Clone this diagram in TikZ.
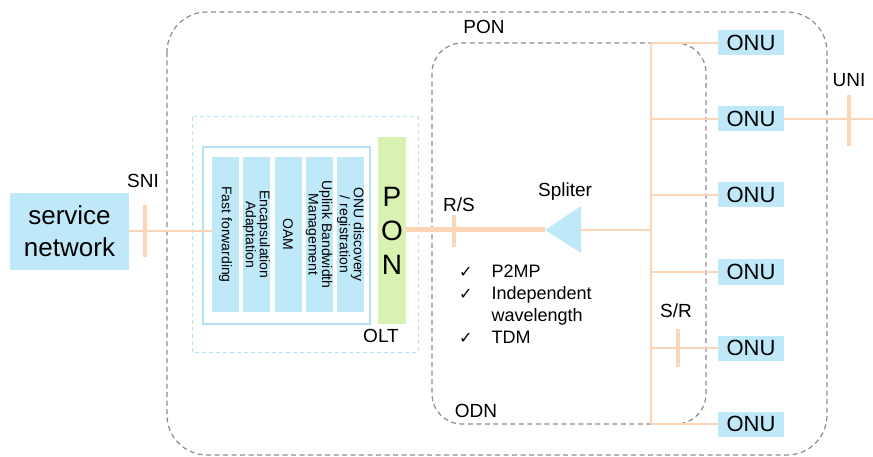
\documentclass[tikz,border=0pt]{standalone}
\usepackage{fontspec}
\setmainfont{Liberation Sans}
\newfontfamily\symfont{DejaVu Sans}
\usepackage{tikz}
\usetikzlibrary{positioning}
\definecolor{boxBlue}{RGB}{191,233,249}
\definecolor{fibreCol}{RGB}{252,212,182}
\definecolor{ponGreen}{RGB}{217,242,178}
\definecolor{domGrey}{RGB}{140,140,140}
\definecolor{oltCol}{RGB}{180,224,244}
\tikzset{myBlueBox/.style={fill=boxBlue, inner sep=0pt}}
\tikzset{myFibre/.style={color=fibreCol, line width=1.5pt}}
\tikzset{myTick/.style={color=fibreCol, line width=4pt}}
\tikzset{myDomain/.style={color=domGrey, line width=1.2pt, dash pattern=on 5pt off 3.5pt}}
\tikzset{myLabel/.style={font=\fontsize{19}{22}\selectfont, inner sep=0pt}}
\tikzset{myFunc/.style={myBlueBox, rotate=-90, minimum width=155pt, minimum height=27pt, align=center, font=\fontsize{14}{11.5}\selectfont}}
\newcommand{\tick}{{\symfont\fontsize{16}{22}\selectfont ✓}}

\begin{document}
\begin{tikzpicture}[x=1pt,y=-1pt]
	\useasboundingbox (0,0) rectangle (873,457);
	% PON and ODN domains
	\draw[myDomain, rounded corners=40pt](167,12) rectangle (827,455);
	\draw[myDomain, rounded corners=30pt](432,43) rectangle (706,424);
	\node[myLabel] (ponLabel) at (484,27) {PON};
	\node[myLabel] (odnLabel) at (476,411) {ODN};

	% OLT
	\draw[oltCol, line width=1pt, dash pattern=on 4pt off 3pt](192,117) rectangle (418,352);
	\draw[oltCol, line width=1.2pt, fill=white](203,147) rectangle (370,324);
	\node[myFunc] (col1) at (225.5,234.5) {Fast forwarding};
	\node[myFunc] (col2) at (256.5,234.5) {Encapsulation\\Adaptation};
	\node[myFunc] (col3) at (288,234.5) {OAM};
	\node[myFunc] (col4) at (319,234.5) {Uplink Bandwidth\\Management};
	\node[myFunc] (col5) at (350.5,234.5) {ONU discovery\\/ registration};
	\node[fill=ponGreen, minimum width=28pt, minimum height=187pt, inner sep=0pt, align=center, font=\fontsize{28}{34}\selectfont] (pon) at (392,230.5) {P\\O\\N};
	\node[myLabel] (oltLabel) at (381,336) {OLT};

	% service network and SNI
	\node[myBlueBox, minimum width=119pt, minimum height=77pt, align=center, font=\fontsize{26}{32}\selectfont] (srv) at (69.5,231.5) {service\\network};
	\draw[myFibre](srv.east |- 0,231) -- (col1.south |- 0,231);
	\draw[myTick](145,205) -- (145,257);
	\node[myLabel] (sniLabel) at (143,181) {SNI};

	% splitter
	\coordinate (splitTip) at (545,230);
	\coordinate (splitOut) at (581,230);
	\fill[boxBlue](splitTip) -- (581,206) -- (581,253) -- cycle;
	\draw[fibreCol, line width=5pt](pon.east |- splitTip) -- (splitTip);
	\draw[myTick](454,215) -- (454,247);
	\node[myLabel] (rsLabel) at (459,205) {R/S};
	\node[myLabel] (splitLabel) at (565,192) {Spliter};

	% features
	\node[font=\fontsize{18}{22}\selectfont, anchor=north west, inner sep=0pt] (feat) at (459,262)
		{\begin{tabular}{@{}l@{\hspace{19pt}}l@{}}
		 \tick & P2MP\\
		 \tick & Independent\\
		       & wavelength\\
		 \tick & TDM
		 \end{tabular}};

	% ONUs
	\coordinate (busTop) at (651,43);
	\foreach \i/\y in {1/43,2/119,3/195,4/272,5/348,6/424}{
		\node[myBlueBox, minimum width=66pt, minimum height=25pt, font=\fontsize{22}{24}\selectfont] (onu\i) at (751,\y) {ONU};
		\draw[myFibre](onu\i.west) -- (onu\i.west -| busTop);
	}
	\draw[myFibre](onu1.west -| busTop) -- (onu6.west -| busTop);
	\draw[myFibre](splitOut) -- (splitOut -| busTop);
	\draw[myTick](678,329) -- (678,367);
	\node[myLabel] (srLabel) at (676,311) {S/R};

	% UNI
	\coordinate (uniEnd) at (873,119);
	\draw[myFibre](onu2.east) -- (uniEnd);
	\draw[myTick](849,95) -- (849,146);
	\node[myLabel] (uniLabel) at (849,80) {UNI};
\end{tikzpicture}
\end{document}
